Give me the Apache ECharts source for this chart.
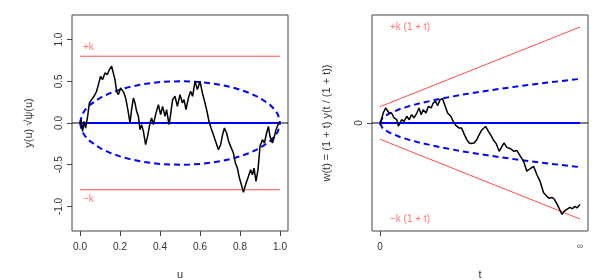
<!DOCTYPE html>
<html><head><meta charset="utf-8">
<script src="https://cdn.jsdelivr.net/npm/echarts@6/dist/echarts.min.js"></script>
<style>html,body{margin:0;padding:0;background:#fff}#c{width:600px;height:280px}</style>
</head><body><div id="c"></div>
<script>
// ---- Left panel data ----
const uL = [0,0.005,0.013,0.02,0.028,0.037,0.047,0.058,0.07,0.083,0.092,0.103,0.113,0.125,0.137,0.147,0.158,0.167,0.175,0.183,0.192,0.203,0.213,0.22,0.23,0.242,0.25,0.258,0.267,0.275,0.283,0.292,0.30,0.308,0.317,0.328,0.338,0.35,0.358,0.367,0.378,0.392,0.403,0.413,0.425,0.433,0.445,0.453,0.463,0.475,0.487,0.50,0.512,0.52,0.53,0.542,0.553,0.563,0.575,0.587,0.60,0.612,0.623,0.633,0.645,0.655,0.667,0.678,0.692,0.703,0.713,0.722,0.733,0.743,0.753,0.767,0.777,0.787,0.797,0.807,0.817,0.828,0.842,0.853,0.862,0.87,0.88,0.89,0.90,0.912,0.922,0.933,0.942,0.95,0.962,0.97,0.98,0.99,1.0];
const yL = [0,0.04,-0.10,0.02,-0.06,0.06,0.24,0.28,0.32,0.38,0.46,0.56,0.52,0.60,0.58,0.64,0.68,0.66,0.52,0.38,0.34,0.42,0.44,0.36,0.28,0.12,0.0,0.16,0.30,0.24,0.14,0.08,-0.08,-0.02,-0.10,-0.26,-0.16,0.0,0.06,-0.02,0.10,0.22,0.10,0.20,0.08,0.16,-0.02,0.10,0.28,0.32,0.20,0.34,0.24,0.28,0.16,0.30,0.38,0.32,0.50,0.40,0.50,0.36,0.26,0.16,0.02,-0.06,-0.14,-0.22,-0.32,-0.26,-0.14,-0.06,-0.12,-0.22,-0.28,-0.36,-0.48,-0.54,-0.66,-0.74,-0.83,-0.74,-0.64,-0.56,-0.62,-0.54,-0.70,-0.56,-0.28,-0.20,-0.24,-0.12,-0.04,-0.16,-0.24,-0.18,-0.08,-0.02,0.02];
// blue dashed envelope (upper half)
const uEnv = [0,0.01,0.025,0.05,0.1,0.15,0.2,0.25,0.3,0.35,0.4,0.45,0.5,0.55,0.6,0.65,0.7,0.75,0.8,0.85,0.9,0.95,0.975,0.99,1];
const envL = [0,0.0995,0.156,0.218,0.30,0.357,0.40,0.433,0.458,0.477,0.49,0.497,0.50,0.497,0.49,0.477,0.458,0.433,0.40,0.357,0.30,0.218,0.156,0.0995,0];
const kL = 0.8;
const uTicks = [0,0.2,0.4,0.6,0.8,1.0];
const yTicksL = [-1,-0.5,0,0.5,1];

// ---- Right panel data ----
const tR = [0,0.025,0.08,0.14,0.19,0.23,0.29,0.35,0.42,0.46,0.5,0.54,0.6,0.67,0.73,0.79,0.85,0.92,0.975,1.03,1.08,1.15,1.21,1.28,1.33,1.39,1.44,1.5,1.56,1.63,1.69,1.77,1.83,1.9,1.98,2.04,2.11,2.17,2.23,2.29,2.35,2.42,2.48,2.55,2.64,2.71,2.77,2.83,2.9,2.98,3.05,3.1,3.17,3.25,3.3,3.35,3.42,3.5,3.59,3.67,3.75,3.84,3.92,4.0,4.09,4.15,4.22,4.3,4.36,4.43,4.49,4.55,4.61,4.67,4.75,4.81,4.87,4.93,5.0];
const wR = [-0.08,0.08,0.49,0.74,0.78,0.49,0.49,0.25,0.16,-0.16,-0.08,0.16,0.08,0.33,0.16,0.41,0.25,0.49,0.74,0.41,0.65,0.49,0.82,0.74,0.98,1.06,0.85,1.14,1.2,0.82,0.49,0.33,0.08,-0.13,-0.25,-0.25,-0.57,-0.82,-0.98,-1.01,-0.98,-0.82,-0.57,-0.33,-0.17,-0.41,-0.6,-0.82,-1.0,-1.39,-1.15,-0.98,-1.2,-1.25,-1.31,-1.39,-1.35,-1.6,-1.88,-2.37,-2.25,-2.13,-2.53,-2.86,-3.43,-3.55,-3.7,-3.66,-3.75,-4.0,-4.25,-4.49,-4.33,-4.25,-4.15,-4.22,-4.1,-4.17,-4.0];
const tEnv = [0,0.05,0.125,0.25,0.5,0.75,1,1.5,2,2.5,3,3.5,4,4.5,5];
const envR = [0,0.217,0.343,0.485,0.686,0.84,0.97,1.188,1.372,1.534,1.68,1.815,1.94,2.058,2.169];
const redT = [0,5];
const redUp = [0.8,4.72];
const redLo = [-0.8,-4.72];

const zip = (a,b,s=1) => a.map((v,i)=>[v,s*b[i]]);
const FONT = 'Liberation Sans, Arial, sans-serif';
const RED = '#ff4d4d', BLUE = '#0000ff';
const txt = {fontFamily:FONT, fontSize:10, color:'#333'};

function lineS(xi, data, color, width, type, z){
  return {type:'line', xAxisIndex:xi, yAxisIndex:xi, data, symbol:'none', silent:true, z:z||2,
    lineStyle:{color, width, type:type||'solid'}, animation:false};
}
function textS(xi, x, y, s){
  return {type:'scatter', xAxisIndex:xi, yAxisIndex:xi, data:[[x,y]], symbolSize:0, silent:true, z:5, animation:false,
    label:{show:true, position:'right', distance:0, formatter:s, color:'#ff5555', fontFamily:FONT, fontSize:10}};
}
const axTick = (vals)=>({show:true, customValues:vals, length:5, inside:false, lineStyle:{color:'#444', width:1}});
const noLine = {show:false, onZero:false};

const chart = echarts.init(document.getElementById('c'), null, {renderer:'canvas'});
chart.setOption({
  animation:false,
  backgroundColor:'#fff',
  grid:[
    {left:72, top:15, width:216, height:216, show:true, borderColor:'#444', borderWidth:1, backgroundColor:'transparent', containLabel:false, outerBoundsMode:'none'},
    {left:372, top:15, width:216, height:216, show:true, borderColor:'#444', borderWidth:1, backgroundColor:'transparent', containLabel:false, outerBoundsMode:'none'}
  ],
  xAxis:[
    {type:'value', gridIndex:0, position:'bottom', min:-0.04, max:1.04, axisLine:noLine, splitLine:{show:false},
     axisTick:axTick(uTicks),
     axisLabel:Object.assign({customValues:uTicks, margin:11, formatter:v=>v.toFixed(1)}, txt),
     name:'u', nameLocation:'middle', nameGap:38, nameTextStyle:Object.assign({}, txt, {fontSize:11})},
    {type:'value', gridIndex:1, position:'bottom', min:-0.2, max:5.2, axisLine:noLine, splitLine:{show:false},
     axisTick:axTick([0]),
     axisLabel:Object.assign({customValues:[0,5], margin:11, formatter:v=> v===0 ? '0' : '{inf|∞}',
       rich:{inf:{fontSize:9, color:'#555', fontFamily:FONT}}}, txt),
     name:'t', nameLocation:'middle', nameGap:38, nameTextStyle:Object.assign({}, txt, {fontSize:11})}
  ],
  yAxis:[
    {type:'value', gridIndex:0, position:'left', min:-1.294, max:1.294, axisLine:noLine, splitLine:{show:false},
     axisTick:axTick(yTicksL),
     axisLabel:Object.assign({customValues:yTicksL, rotate:90, margin:8, formatter:v=>v.toFixed(1)}, txt),
     name:'y(u) √ψ(u)', nameLocation:'middle', nameGap:38, nameRotate:90, nameTextStyle:Object.assign({}, txt, {fontSize:11})},
    {type:'value', gridIndex:1, position:'left', min:-5.31, max:5.31, axisLine:noLine, splitLine:{show:false},
     axisTick:axTick([0]),
     axisLabel:Object.assign({customValues:[0], rotate:90, margin:8, formatter:v=>'0'}, txt),
     name:'w(t) = (1 + t) y(t / (1 + t))', nameLocation:'middle', nameGap:40, nameRotate:90, nameTextStyle:Object.assign({}, txt, {fontSize:11})}
  ],
  series:[
    // left
    lineS(0, [[-0.04,0],[1.04,0]], '#000', 1, 'solid', 1),
    lineS(0, [[0,kL],[1,kL]], RED, 1),
    lineS(0, [[0,-kL],[1,-kL]], RED, 1),
    lineS(0, zip(uEnv, envL), BLUE, 2, [6,4]),
    lineS(0, zip(uEnv, envL, -1), BLUE, 2, [6,4]),
    lineS(0, [[0,0],[1,0]], BLUE, 2),
    lineS(0, zip(uL, yL), '#000', 1.5, 'solid', 4),
    textS(0, 0.015, 0.903, '+k'),
    textS(0, 0.015, -0.908, '−k'),
    // right
    lineS(1, [[-0.2,0],[5.2,0]], '#000', 1, 'solid', 1),
    lineS(1, zip(redT, redUp), RED, 1),
    lineS(1, zip(redT, redLo), RED, 1),
    lineS(1, zip(tEnv, envR), BLUE, 2, [6,4]),
    lineS(1, zip(tEnv, envR, -1), BLUE, 2, [6,4]),
    lineS(1, [[0,0],[5,0]], BLUE, 2),
    lineS(1, zip(tR, wR), '#000', 1.5, 'solid', 4),
    textS(1, 0.25, 4.7, '+k (1 + t)'),
    textS(1, 0.25, -4.74, '−k (1 + t)')
  ]
});
</script></body></html>
